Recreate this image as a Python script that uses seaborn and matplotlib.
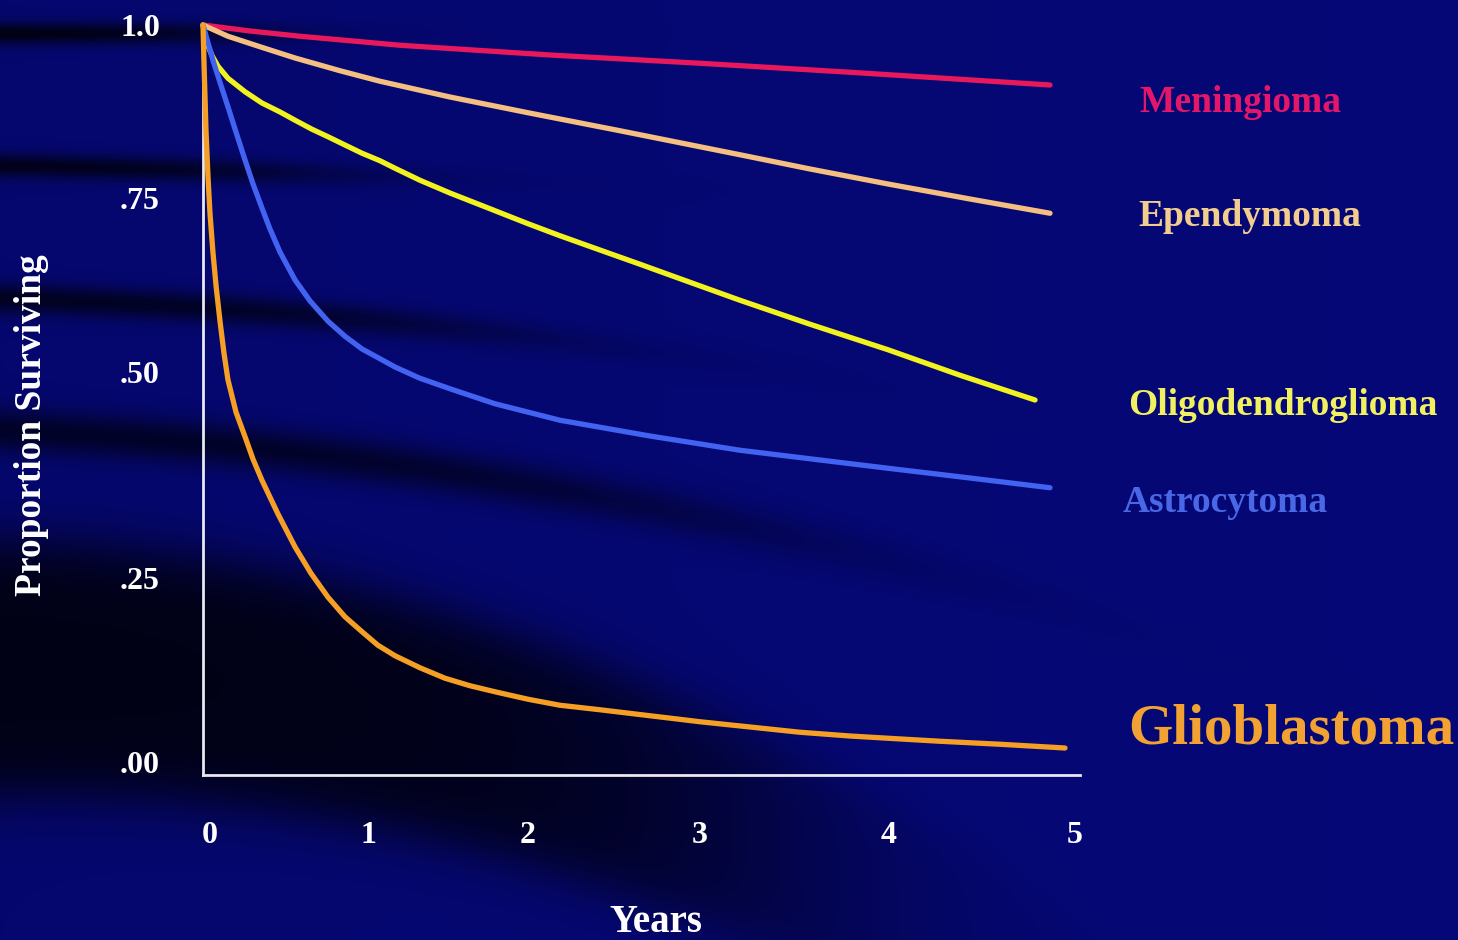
import numpy as np
import pandas as pd
import matplotlib
matplotlib.use("Agg")
import matplotlib.pyplot as plt
import seaborn as sns

# Survival curves by tumour type (years after diagnosis, proportion surviving)
tumours = ["Meningioma", "Ependymoma", "Oligodendroglioma", "Astrocytoma", "Glioblastoma"]

meningioma_years = [0, 0.270, 0.556, 1.130, 1.990, 2.850, 3.710, 4.857]
meningioma_surv = [1.0, 0.992, 0.985, 0.973, 0.960, 0.949, 0.937, 0.920]

ependymoma_years = [0, 0.143, 0.327, 0.528, 0.786, 1.015, 1.416, 1.864, 2.391,
                    3.079, 3.481, 3.928, 4.398, 4.857]
ependymoma_surv = [1.0, 0.985, 0.971, 0.956, 0.939, 0.925, 0.904, 0.883, 0.859,
                   0.827, 0.808, 0.788, 0.768, 0.749]

oligo_years = [0, 0.012, 0.029, 0.052, 0.086, 0.143, 0.241, 0.338, 0.442, 0.528,
               0.625, 0.717, 0.814, 0.912, 1.015, 1.101, 1.244, 1.416, 1.646,
               1.864, 2.047, 2.276, 2.506, 2.792, 3.079, 3.481, 3.928, 4.341, 4.771]
oligo_surv = [1.0, 0.987, 0.972, 0.959, 0.945, 0.929, 0.911, 0.896, 0.884, 0.873,
              0.861, 0.851, 0.840, 0.829, 0.819, 0.809, 0.793, 0.776, 0.755,
              0.735, 0.719, 0.700, 0.681, 0.657, 0.633, 0.601, 0.567, 0.533, 0.500]

astro_years = [0, 0.029, 0.057, 0.098, 0.143, 0.195, 0.241, 0.287, 0.338, 0.384,
               0.442, 0.528, 0.614, 0.717, 0.814, 0.912, 1.015, 1.101, 1.244,
               1.416, 1.674, 2.047, 2.563, 3.079, 3.538, 3.928, 4.398, 4.857]
astro_surv = [1.0, 0.976, 0.953, 0.923, 0.891, 0.853, 0.820, 0.788, 0.756, 0.728,
              0.697, 0.660, 0.632, 0.605, 0.585, 0.568, 0.555, 0.544, 0.529,
              0.515, 0.495, 0.473, 0.452, 0.433, 0.420, 0.409, 0.396, 0.383]

glio_years = [0, 0.006, 0.012, 0.017, 0.029, 0.040, 0.057, 0.075, 0.098, 0.120,
              0.143, 0.189, 0.241, 0.287, 0.338, 0.430, 0.528, 0.619, 0.717,
              0.814, 0.912, 1.003, 1.101, 1.244, 1.388, 1.531, 1.674, 1.864,
              2.047, 2.276, 2.563, 2.850, 3.137, 3.423, 3.710, 3.928, 4.226,
              4.570, 4.943]
glio_surv = [1.0, 0.947, 0.900, 0.860, 0.796, 0.749, 0.697, 0.652, 0.604, 0.563,
             0.527, 0.484, 0.451, 0.421, 0.393, 0.348, 0.304, 0.269, 0.237,
             0.211, 0.191, 0.173, 0.159, 0.143, 0.129, 0.119, 0.111, 0.101,
             0.093, 0.087, 0.079, 0.071, 0.064, 0.057, 0.052, 0.049, 0.045,
             0.041, 0.036]

x_tick_labels = ["0", "1", "2", "3", "4", "5"]
y_tick_labels = [".00", ".25", ".50", ".75", "1.0"]

# ---- layout / style ----
x_tick_pos = [0.04, 0.946, 1.863, 2.85, 3.93, 5.0]
y_tick_pos = [0.017, 0.263, 0.537, 0.769, 1.0]
line_colors = ["#e8185c", "#f6bf82", "#f2f21e", "#4262f2", "#f5a024"]
label_colors = ["#e3166a", "#f3cd8e", "#f0f060", "#4a68e6", "#f2a232"]
label_pos = [(1.068, 0.896), (1.066, 0.744), (1.055, 0.493), (1.049, 0.363), (1.055, 0.060)]
label_sizes = [27, 27, 27, 27, 41]

series = [(meningioma_years, meningioma_surv), (ependymoma_years, ependymoma_surv),
          (oligo_years, oligo_surv), (astro_years, astro_surv), (glio_years, glio_surv)]
df = pd.concat(
    [pd.DataFrame({"Years": yrs, "Surviving": s, "Tumour": name})
     for name, (yrs, s) in zip(tumours, series)],
    ignore_index=True,
)

sns.set_style("white")
plt.rcParams["font.family"] = ["Liberation Serif", "DejaVu Serif"]
plt.rcParams["font.weight"] = "bold"

W, H = 1458, 940
fig = plt.figure(figsize=(W / 100, H / 100), dpi=100)

# Slide background: navy with dark sweeping bands on the left
yy, xx = np.mgrid[0:H, 0:W].astype(float)
def sig(z):
    return 1.0 / (1.0 + np.exp(-z))

dark = np.zeros((H, W))
for y0, a, b, w, s, xf, xs in [
    (33, 0.00, 0.00000, 11, 0.85, 230, 60),
    (165, 0.02, 0.00002, 12, 0.78, 300, 80),
    (298, 0.03, 0.00008, 15, 0.72, 450, 110),
    (430, 0.04, 0.00012, 22, 0.65, 700, 140),
]:
    yc = y0 + a * xx + b * xx ** 2
    dark += s * np.exp(-((yy - yc) / w) ** 2) * sig((xf - xx) / xs)
yc_low = 668 + 0.0003 * xx ** 2
wl = 128 - 0.03 * xx
dark += 0.80 * sig((wl - np.abs(yy - yc_low)) / 16) * sig((760 - xx) / 110)
dark = np.clip(dark, 0, 0.9)
base = np.array([5, 7, 110]) / 255.0
tint = 1 + 0.08 * (xx / W)
img = base[None, None, :] * (1 - dark)[..., None] * tint[..., None]
img = np.clip(img, 0, 1)

bg = fig.add_axes([0, 0, 1, 1])
bg.imshow(img, aspect="auto", extent=[0, 1, 0, 1], interpolation="bilinear")
bg.set_axis_off()

ax = fig.add_axes([203 / W, 1 - 775 / H, 877 / W, 750 / H])
ax.set_facecolor("none")

sns.lineplot(data=df, x="Years", y="Surviving", hue="Tumour", hue_order=tumours,
             palette=line_colors, linewidth=3.8, sort=False, estimator=None,
             legend=False, ax=ax)
for ln in ax.get_lines():
    ln.set_solid_capstyle("round")
    ln.set_solid_joinstyle("round")
    ln.set_clip_on(False)

ax.set_xlim(0, 5.029)
ax.set_ylim(0, 1.0)
for side in ["top", "right"]:
    ax.spines[side].set_visible(False)
for side in ["left", "bottom"]:
    ax.spines[side].set_color("#e8e8f0")
    ax.spines[side].set_linewidth(2.0)
    ax.spines[side].set_zorder(1)

ax.set_xticks(x_tick_pos, labels=x_tick_labels)
ax.set_yticks(y_tick_pos, labels=y_tick_labels)
ax.tick_params(axis="x", length=0, pad=33, labelsize=23, labelcolor="white")
ax.tick_params(axis="y", length=0, pad=31, labelsize=23, labelcolor="white")
for t in ax.get_xticklabels() + ax.get_yticklabels():
    t.set_fontweight("bold")

ax.set_xlabel("Years", fontsize=28, fontweight="bold", color="white")
ax.xaxis.label.set_va("center")
ax.xaxis.set_label_coords((656 - 203) / 877, (775 - 922) / 750)
ax.set_ylabel("Proportion Surviving", fontsize=27, fontweight="bold", color="white")
ax.yaxis.label.set_va("center")
ax.yaxis.set_label_coords((32 - 203) / 877, (775 - 425) / 750)

for name, col, (px, py), fs in zip(tumours, label_colors, label_pos, label_sizes):
    ax.text(px, py, name, transform=ax.transAxes, color=col, fontsize=fs,
            fontweight="bold", ha="left", va="center", clip_on=False)

fig.savefig("out.png", dpi=100)
